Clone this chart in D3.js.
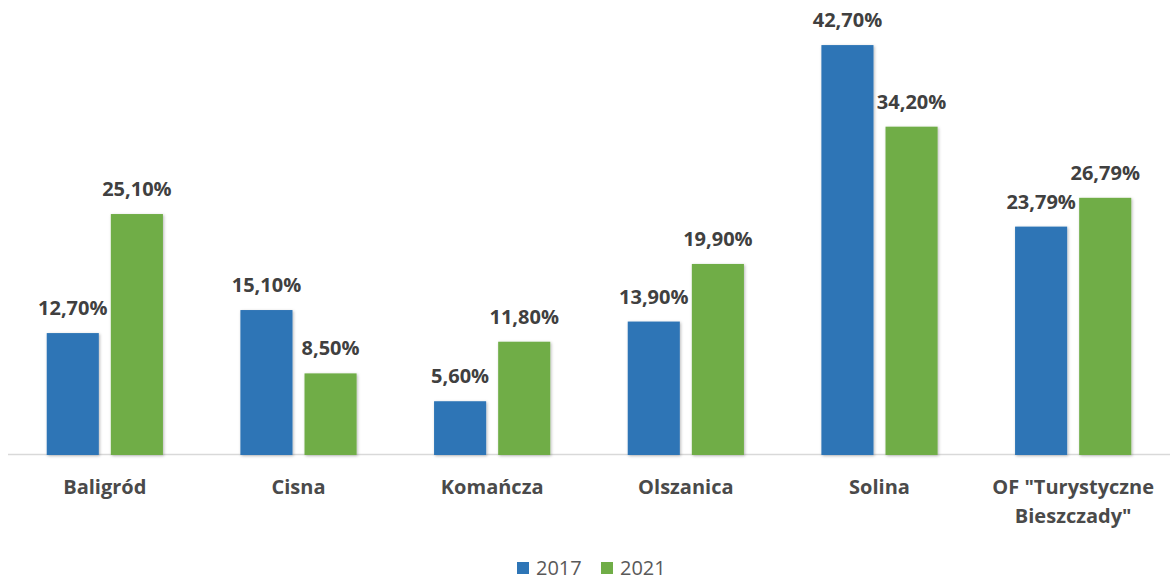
<!DOCTYPE html>
<html>
<head>
<meta charset="utf-8">
<script src="https://cdn.jsdelivr.net/npm/d3@7"></script>
<style>
  html, body { margin: 0; padding: 0; background: #ffffff; }
  svg { display: block; }
  text { font-family: "Open Sans", "Noto Sans", sans-serif; }
</style>
</head>
<body>
<svg id="chart" width="1171" height="581"></svg>
<script>
// Share per municipality, 2017 vs 2021 (percent)
const categories = ["Baligród", "Cisna", "Komańcza", "Olszanica", "Solina", "OF \"Turystyczne|Bieszczady\""];
const series = ["2017", "2021"];
const values2017 = [12.70, 15.10, 5.60, 13.90, 42.70, 23.79];
const values2021 = [25.10, 8.50, 11.80, 19.90, 34.20, 26.79];
const colors = ["#2E75B6", "#70AD47"];

const svg = d3.select("#chart");
const plot = { left: 8, right: 1170, top: 23, bottom: 455 };

const x0 = d3.scaleBand().domain(categories).range([plot.left, plot.right]).paddingInner(0.4).paddingOuter(0.2);
const x1 = d3.scaleBand().domain(series).range([0, x0.bandwidth()]).paddingInner(0.1875);
const y = d3.scaleLinear().domain([0, 45]).range([plot.bottom, plot.top]);

// soft drop shadow under bars
const defs = svg.append("defs");
const f = defs.append("filter").attr("id", "shadow").attr("x", "-20%").attr("y", "-10%").attr("width", "140%").attr("height", "130%");
f.append("feDropShadow").attr("dx", 1).attr("dy", 1).attr("stdDeviation", 1.6).attr("flood-color", "#000").attr("flood-opacity", 0.28);

const rows = categories.map((c, i) => ({ cat: c, vals: [values2017[i], values2021[i]] }));
const fmt = v => v.toFixed(2).replace(".", ",") + "%";

// baseline axis
svg.append("line")
  .attr("x1", plot.left).attr("x2", plot.right)
  .attr("y1", plot.bottom - 0.5).attr("y2", plot.bottom - 0.5)
  .attr("stroke", "#D9D9D9").attr("stroke-width", 1.5);

const g = svg.selectAll("g.group").data(rows).enter().append("g")
  .attr("class", "group")
  .attr("transform", d => `translate(${x0(d.cat)},0)`);

g.selectAll("rect").data(d => d.vals.map((v, k) => ({ s: series[k], v, k }))).enter().append("rect")
  .attr("x", d => x1(d.s))
  .attr("width", x1.bandwidth())
  .attr("y", d => y(d.v))
  .attr("height", d => y(0) - y(d.v))
  .attr("fill", d => colors[d.k])
  .attr("filter", "url(#shadow)");

g.selectAll("text.val").data(d => d.vals.map((v, k) => ({ s: series[k], v, k }))).enter().append("text")
  .attr("class", "val")
  .attr("x", d => x1(d.s) + x1.bandwidth() / 2)
  .attr("y", d => y(d.v) - 18)
  .attr("text-anchor", "middle")
  .attr("font-size", 20).attr("font-weight", 700)
  .attr("fill", "#404040")
  .text(d => fmt(d.v));

// category labels (split on | into lines)
svg.selectAll("text.cat").data(categories).enter().append("text")
  .attr("class", "cat")
  .attr("x", d => x0(d) + x0.bandwidth() / 2)
  .attr("y", 494)
  .attr("text-anchor", "middle")
  .attr("font-size", 20).attr("font-weight", 700)
  .attr("fill", "#4a4a4a")
  .each(function (d) {
    const parts = d.split("|");
    const t = d3.select(this);
    parts.forEach((p, i) => {
      t.append("tspan").attr("x", x0(d) + x0.bandwidth() / 2).attr("dy", i === 0 ? 0 : 29).text(p);
    });
  });

// legend
const legend = svg.append("g").attr("transform", "translate(517,0)");
const legendX = [0, 84];
series.forEach((s, i) => {
  legend.append("rect").attr("x", legendX[i]).attr("y", 562).attr("width", 12).attr("height", 12).attr("fill", colors[i]);
  legend.append("text").attr("x", legendX[i] + 19).attr("y", 575)
    .attr("font-size", 20).attr("fill", "#595959").text(s);
});
</script>
</body>
</html>
